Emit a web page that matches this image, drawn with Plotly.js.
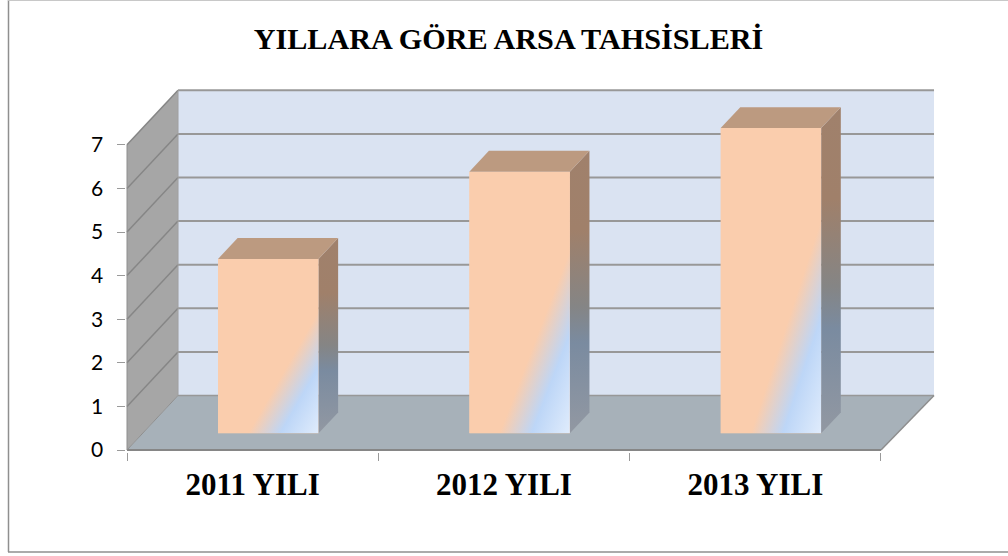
<!DOCTYPE html>
<html>
<head>
<meta charset="utf-8">
<script src="https://cdn.plot.ly/plotly-3.0.1.min.js"></script>
<style>
    html, body { margin: 0; padding: 0; background: #fff; }
    #chart { width: 1008px; height: 556px; }
</style>
</head>
<body>
<div id="chart"></div>
<script>
    // Data
    var categories = ['2011 YILI', '2012 YILI', '2013 YILI'];
    var values = [4, 6, 7];
    var yTicks = [0, 1, 2, 3, 4, 5, 6, 7];
    var chartTitle = 'YILLARA GÖRE ARSA TAHSİSLERİ';

    // Oblique projection of the 3D box, in axis units
    var yMax = 7;
    var depthX = 0.203;   // how far right the back wall sits
    var depthY = 1.25;    // how far up the back wall sits
    var stretch = 0.008;  // the back wall is a little wider than the front edge
    var barFront = 0.306; // depth of the bars front face
    var barBack = 0.69;   // depth of the bars back face
    var barHalf = 0.2;

    function projX(x, d) {
        return x + d * depthX + d * stretch * (x + 0.5) / 3;
    }
    function px(x, v, d) {
        return projX(x, d) + ' ' + (v + d * depthY);
    }
    function polygon(points) {
        return 'M' + points.join('L') + 'Z';
    }
    function wallShape(points, color) {
        return { type: 'path', xref: 'x', yref: 'y', layer: 'below', path: polygon(points), fillcolor: color, line: { width: 0 } };
    }
    function lineShape(a, b, color, width) {
        return { type: 'path', xref: 'x', yref: 'y', layer: 'below', path: 'M' + a + 'L' + b, line: { color: color, width: width } };
    }

    var xLeft = -0.5, xRight = 2.5;

    // Walls and floor
    var shapes = [
        wallShape([px(xLeft, 0, 1), px(xLeft, yMax, 1), px(xRight, yMax, 1), px(xRight, 0, 1)], '#DAE3F2'),
        wallShape([px(xLeft, 0, 0), px(xLeft, yMax, 0), px(xLeft, yMax, 1), px(xLeft, 0, 1)], '#A6A6A6'),
        wallShape([px(xLeft, 0, 0), px(xRight, 0, 0), px(xRight, 0, 1), px(xLeft, 0, 1)], '#A7B1B9')
    ];

    // Gridlines on the side and back walls
    yTicks.forEach(function(t) {
        if (t > 0) {
            shapes.push(lineShape(px(xLeft, t, 0), px(xLeft, t, 1), '#868686', 1.5));
            shapes.push(lineShape(px(xLeft, t, 1), px(xRight, t, 1), '#989898', 2));
        }
    });
    shapes.push(lineShape(px(xLeft, 0, 1), px(xRight, 0, 1), '#989898', 1.5));
    shapes.push(lineShape(px(xLeft, 0, 1), px(xLeft, yMax, 1), '#A0A0A0', 1));
    shapes.push(lineShape(px(xLeft, 0, 0), px(xLeft, 0, 1), '#8E8E8E', 1));
    shapes.push(lineShape(px(xRight, 0, 0), px(xRight, 0, 1), '#8E8E8E', 1.5));
    shapes.push(lineShape(px(xLeft, 0, 0), px(xRight, 0, 0), '#868686', 2));
    shapes.push(lineShape(px(xLeft, 0, 0), px(xLeft, yMax, 0), '#8E8E8E', 1));

    // Chart frame (left, top and bottom only)
    function frameLine(x0, y0, x1, y1, color, width) {
        return { type: 'line', xref: 'paper', yref: 'paper', layer: 'below', x0: x0 / 1008, x1: x1 / 1008, y0: 1 - y0 / 556, y1: 1 - y1 / 556, line: { color: color, width: width } };
    }
    shapes.push(frameLine(8.5, 0, 8.5, 552, '#8F8F8F', 1.5));
    shapes.push(frameLine(8, 0.5, 1008, 0.5, '#C8C8C8', 1));
    shapes.push(frameLine(8, 552, 1008, 552, '#8F8F8F', 1.5));

    // Front gradient of a bar: the peach fades to blue in the bottom right corner
    var gradientSvg = '<svg xmlns="http://www.w3.org/2000/svg" width="100" height="100" viewBox="0 0 100 100" preserveAspectRatio="none">' +
        '<defs><linearGradient id="g" x1="0" y1="0" x2="1" y2="1">' +
        '<stop offset="0" stop-color="#FACDAD"/><stop offset="0.65" stop-color="#FACDAD"/>' +
        '<stop offset="0.81" stop-color="#BDD6F7"/><stop offset="1" stop-color="#E0ECFC"/>' +
        '</linearGradient></defs><rect width="100" height="100" fill="url(#g)"/></svg>';
    var gradientUri = 'data:image/svg+xml;base64,' + btoa(gradientSvg);

    var frontX = categories.map(function(c, i) { return i + barFront * depthX; });
    var frontBase = barFront * depthY;

    // The bars themselves
    var traces = [{
        type: 'bar',
        x: frontX,
        y: values,
        base: frontBase,
        width: barHalf * 2,
        marker: { color: '#FACDAD', line: { width: 0 } },
        hoverinfo: 'skip',
        showlegend: false
    }];

    var images = [];

    values.forEach(function(v, i) {
        var l = i - barHalf, r = i + barHalf;

        // Side face
        var side = [[r, 0, barFront], [r, 0, barBack], [r, v, barBack], [r, v, barFront]];
        traces.push({
            type: 'scatter', mode: 'lines', fill: 'toself',
            x: side.map(function(p) { return p[0] + p[2] * depthX; }),
            y: side.map(function(p) { return p[1] + p[2] * depthY; }),
            line: { width: 0 },
            fillgradient: {
                type: 'vertical',
                colorscale: [[0, '#9298A2'], [0.32, '#7A8BA0'], [0.45, '#858585'], [0.72, '#A0806A'], [1, '#A0816C']]
            },
            hoverinfo: 'skip', showlegend: false
        });

        // Top face
        var top = [[l, barFront], [r, barFront], [r, barBack], [l, barBack]];
        traces.push({
            type: 'scatter', mode: 'lines', fill: 'toself',
            x: top.map(function(p) { return p[0] + p[1] * depthX; }),
            y: top.map(function(p) { return v + p[1] * depthY; }),
            line: { width: 0 },
            fillcolor: '#BC9A80',
            hoverinfo: 'skip', showlegend: false
        });

        images.push({
            source: gradientUri, xref: 'x', yref: 'y', layer: 'above',
            x: frontX[i] - barHalf, y: frontBase + v,
            sizex: barHalf * 2, sizey: v,
            sizing: 'stretch', xanchor: 'left', yanchor: 'top'
        });
    });

    // Small padding so the lines on the edge of the box are not clipped
    var xUnit = 251.33, yUnit = 43.6;
    var pad = 1.5;
    var xSpan = depthX + stretch;
    var xRange = [xLeft - pad / xUnit, xRight + xSpan + pad / xUnit];
    var yRange = [0 - pad / yUnit, yMax + depthY + pad / yUnit];

    var layout = {
        width: 1008,
        height: 556,
        margin: { l: 0, r: 0, t: 0, b: 0 },
        paper_bgcolor: '#FFFFFF',
        plot_bgcolor: 'rgba(0,0,0,0)',
        showlegend: false,
        title: {
            text: '<b>' + chartTitle + '</b>',
            font: { family: 'Liberation Serif', size: 30.2, color: '#000000' },
            x: 508.5 / 1008, xanchor: 'center',
            y: 1 - 38 / 556, yanchor: 'middle'
        },
        xaxis: {
            domain: [(127 - pad) / 1008, (127 + 3 * xUnit + xSpan * xUnit + pad) / 1008],
            range: xRange,
            tickmode: 'array',
            tickvals: [0, 1, 2],
            ticktext: categories.map(function(c) { return '<b>' + c + '</b>'; }),
            ticks: '',
            ticklabelstandoff: 11,
            tickfont: { family: 'Liberation Serif', size: 31, color: '#000000' },
            minor: { tickmode: 'array', tickvals: [-0.5, 0.5, 1.5, 2.5], ticks: 'outside', ticklen: 8, tickwidth: 1, tickcolor: '#9A9A9A' },
            showgrid: false, zeroline: false, showline: false, fixedrange: true
        },
        yaxis: {
            domain: [1 - (450 + pad) / 556, 1 - (450 - (yMax + depthY) * yUnit - pad) / 556],
            range: yRange,
            tickmode: 'array',
            tickvals: yTicks,
            ticks: 'outside',
            ticklen: 8,
            tickwidth: 1,
            tickcolor: '#9A9A9A',
            ticklabelstandoff: 9,
            tickfont: { family: 'Lato', size: 21, color: '#000000' },
            showgrid: false, zeroline: false, showline: false, fixedrange: true
        },
        shapes: shapes,
        images: images
    };

    Plotly.newPlot('chart', traces, layout, { displayModeBar: false, staticPlot: true });
</script>
</body>
</html>
